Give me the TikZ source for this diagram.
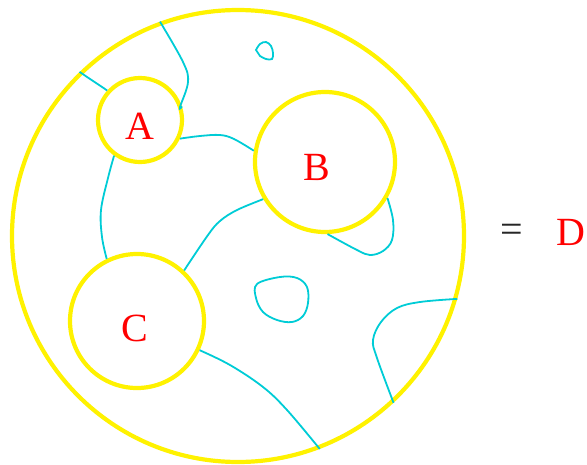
\documentclass[tikz,border=0pt]{standalone}
\usepackage{fontspec}
\setmainfont{Liberation Serif}
\begin{document}
\begin{tikzpicture}[x=1pt, y=-1pt,
            disc/.style={circle, draw=yellow, line width=4.2pt, inner sep=0pt},
            wire/.style={draw={rgb,255:red,0;green,204;blue,214}, line width=1.8pt, smooth, tension=0.6},
            tag/.style={text=red, font=\fontsize{40}{42}\selectfont, inner sep=0pt}
            ]
            \useasboundingbox (0,0) rectangle (587,464);
            \node[disc, minimum size=452pt] (D) at (238,236) {};
            \node[disc, minimum size=84pt] (A) at (140,120) {};
            \node[disc, minimum size=140pt] (B) at (325,162) {};
            \node[disc, minimum size=134pt] (C) at (137,321) {};

            \node[tag] (la) at (140,126) {A};
            \node[tag] (lb) at (317,167) {B};
            \node[tag] (lc) at (135,328) {C};
            \node[tag, text=black!85] (eq) at (512,233) {=};
            \node[tag] (ld) at (571,232) {D};

            % strands between the discs
            \draw[wire] (A.138) -- (D.134.5);
            \draw[wire] plot coordinates {(D.110.5) (183,62) (188,82) (180,107) (A.18)};
            \draw[wire] plot coordinates {(A.335) (200,136) (220,135) (234,139) (B.171)};
            \draw[wire] plot coordinates {(A.234) (108,178) (101,210) (102,237) (C.116.6)};
            \draw[wire] plot coordinates {(B.211) (237,210) (220,221) (208,235) (C.47)};
            \draw[wire] plot coordinates {(B.330) (393,220) (392,240) (383,251) (370,255) (357,250) (B.272)};
            \draw[wire] plot coordinates {(C.335) (230,365) (263,387) (287,410) (D.291)};
            \draw[wire] plot coordinates {(D.344) (420,302) (397,308) (381,322) (373,340) (377,358) (D.313.7)};
            % closed loops
            \draw[wire] plot coordinates {(256,50) (260,44) (266,42) (271,46) (273,53) (272,59) (266,59) (260,56)} -- cycle;
            \draw[wire] plot[smooth cycle] coordinates {(257,284) (280,277) (297,278) (307,287) (308,303) (303,316) (292,322) (277,320) (263,312) (256,298)};
            \end{tikzpicture}
\end{document}
